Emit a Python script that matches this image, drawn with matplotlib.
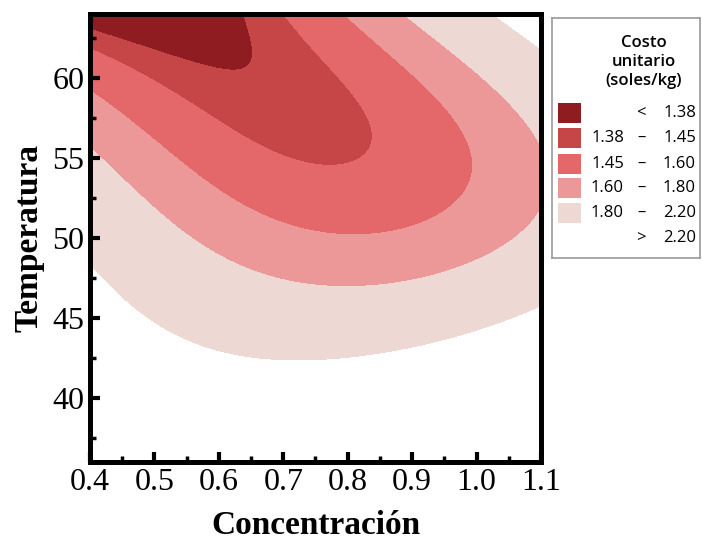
"""Contour plot of unit cost vs concentration and temperature."""

import numpy as np
import matplotlib

matplotlib.use("Agg")
import matplotlib.pyplot as plt
from matplotlib.patches import Rectangle
from matplotlib.ticker import MultipleLocator

conc_pts = [0.40, 0.50, 0.60, 0.633, 0.648, 0.641,
            0.40, 0.50, 0.60, 0.65, 0.71, 0.79, 0.835, 0.824, 0.762, 0.706,
            0.40, 0.50, 0.60, 0.70, 0.80, 0.90, 0.975, 0.99, 0.98, 0.943, 0.892, 0.80,
            0.40, 0.50, 0.60, 0.70, 0.78, 0.90, 1.00, 1.10, 1.10, 1.037, 0.954, 0.892,
            0.40, 0.48, 0.60, 0.71, 0.80, 0.90, 0.96, 1.09, 1.03, 1.09]
temp_pts = [62.7, 61.9, 60.6, 60.45, 61.1, 64.0,
            62.0, 59.9, 57.2, 55.9, 54.7, 54.4, 56.1, 58.0, 60.7, 63.6,
            59.25, 56.1, 53.0, 50.9, 50.2, 50.7, 52.6, 54.4, 56.6, 58.6, 60.7, 63.8,
            55.9, 51.75, 48.8, 47.6, 46.9, 47.6, 48.6, 51.75, 55.9, 58.8, 61.9, 63.8,
            48.2, 45.1, 43.0, 42.4, 42.5, 43.0, 43.6, 45.6, 63.8, 62.2]
cost_pts = [1.38] * 6 + [1.45] * 10 + [1.60] * 12 + [1.80] * 12 + [2.20] * 10

levels = [1.38, 1.45, 1.60, 1.80, 2.20]
band_labels = [("", "<", "1.38"), ("1.38", "–", "1.45"), ("1.45", "–", "1.60"),
               ("1.60", "–", "1.80"), ("1.80", "–", "2.20"), ("", ">", "2.20")]
band_colors = ["#8F1C20", "#C64547", "#E4676A", "#EC9899", "#EDD8D3", "white"]


def cubic_terms(u, v):
    u, v = np.ravel(u), np.ravel(v)
    return np.column_stack([np.ones_like(u), u, v, u * u, v * v, u * v,
                            u ** 3, v ** 3, u * u * v, u * v * v])


# cubic surface fitted to the read points, in coded units
def code(c, t):
    return (np.asarray(c) - 0.75) / 0.35, (np.asarray(t) - 50) / 14


coef, *_ = np.linalg.lstsq(cubic_terms(*code(conc_pts, temp_pts)),
                           np.array(cost_pts), rcond=None)

gx, gy = np.meshgrid(np.linspace(0.4, 1.1, 300), np.linspace(36, 64, 300))
gz = (cubic_terms(*code(gx, gy)) @ coef).reshape(gx.shape)

fig = plt.figure(figsize=(7.02, 5.42), dpi=100)
ax = fig.add_axes([90 / 702, 80 / 542, 451 / 702, 448 / 542])

bounds = [min(gz.min(), 0.0)] + levels + [max(gz.max(), 10.0)]
ax.contourf(gx, gy, gz, levels=bounds, colors=band_colors)

ax.set_xlim(0.4, 1.1)
ax.set_ylim(36, 64)
ax.xaxis.set_minor_locator(MultipleLocator(0.05))
ax.yaxis.set_minor_locator(MultipleLocator(2.5))
xt = np.round(np.arange(0.4, 1.11, 0.1), 1)
ax.set_xticks(xt)
ax.set_xticklabels([f"{v:.1f}" for v in xt])
ax.set_yticks([40, 45, 50, 55, 60])

for side in ax.spines.values():
    side.set_linewidth(3.6)
ax.tick_params(which="major", direction="in", length=7, width=3,
               labelsize=23, pad=4)
ax.tick_params(which="minor", direction="in", length=4, width=2.5)
ax.tick_params(top=False, right=False, which="both")
for lab in ax.get_xticklabels() + ax.get_yticklabels():
    lab.set_fontfamily("Liberation Serif")

ax.set_xlabel("Concentración", fontfamily="Liberation Serif", fontweight="bold",
              fontsize=24, labelpad=10)
ax.set_ylabel("Temperatura", fontfamily="Liberation Serif", fontweight="bold",
              fontsize=24, labelpad=6)

# legend panel, laid out in pixel units
lg = fig.add_axes([552 / 702, 284 / 542, 148 / 702, 240 / 542])
lg.set_xlim(552, 700)
lg.set_ylim(258, 18)
lg.set_xticks([])
lg.set_yticks([])
for side in lg.spines.values():
    side.set_color("#9A9A9A")
    side.set_linewidth(1.2)

font = dict(family="Open Sans", fontsize=12, color="black")
lg.text(644, 62, "Costo\nunitario\n(soles/kg)", ha="center", va="center",
        linespacing=1.25, fontweight="semibold", **font)
row_y = [113, 138, 164, 188, 213, 238]
for ry, (lo, sep, hi), col in zip(row_y, band_labels, band_colors):
    if col != "white":
        lg.add_patch(Rectangle((558, ry - 10), 23, 20, color=col, lw=0))
    lg.text(624, ry, lo, ha="right", va="center", **font)
    lg.text(641, ry, sep, ha="center", va="center", **font)
    lg.text(696, ry, hi, ha="right", va="center", **font)

fig.savefig("out.png", dpi=100)
